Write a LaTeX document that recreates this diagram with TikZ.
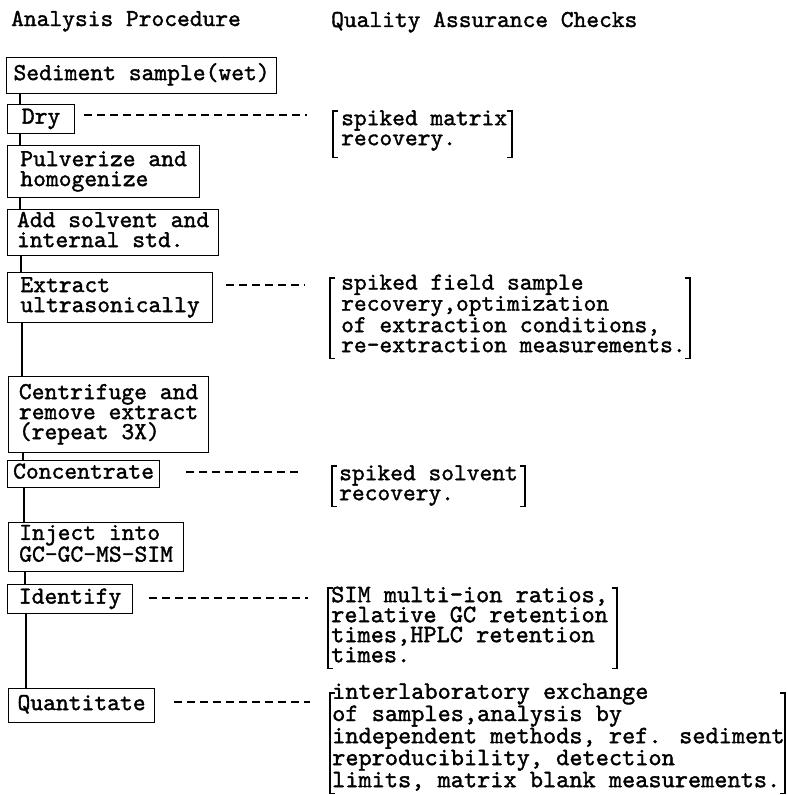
\documentclass[tikz,border=0pt]{standalone}
\usepackage{fontspec}
\newfontfamily\typew{lmmono10-regular}[Extension=.otf, FakeBold=1.4]
\usetikzlibrary{calc}
\tikzset{
	stepbox/.style={
		draw,
		rectangle,
		anchor=north west,
		align=left,
		line width=1.2pt,
		inner sep=2pt,
		text height=14pt,
		text depth=5pt,
		font=\typew\fontsize{24.4}{20}\selectfont
	},
	twolines/.style={text height=34pt},
	threelines/.style={text height=54pt},
	qabox/.style={
		anchor=north west,
		align=left,
		inner ysep=0pt,
		text depth=6pt,
		font=\typew\fontsize{24.3}{20}\selectfont
	},
	qawide/.style={
		qabox,
		font=\typew\fontsize{25.1}{20}\selectfont
	},
	heading/.style={
		anchor=base west,
		inner sep=0pt,
		font=\typew\fontsize{24.3}{20}\selectfont
	},
	trunk/.style={line width=1.2pt},
	bracket/.style={line width=1.2pt},
	qaline/.style={line width=1.2pt, dash pattern=on 8pt off 5pt}
}
\begin{document}
\begin{tikzpicture}[x=1pt,y=-1pt]
	\useasboundingbox (0,0) rectangle (787,795);
	\node[heading] (hproc) at (11,26) {Analysis Procedure};
	\node[heading] (hqa) at (331,27) {Quality Assurance Checks};

	% analysis steps
	\node[stepbox, minimum width=270pt, minimum height=36pt] (sed) at (6,57) {Sediment sample(wet)};
	\node[stepbox, minimum width=67pt, minimum height=29pt] (dry) at (7,104) {Dry};
	\node[stepbox, twolines, minimum width=192pt, minimum height=52pt] (pulv) at (7,145) {Pulverize and\\homogenize};
	\node[stepbox, twolines, minimum width=211pt, minimum height=46pt] (add) at (7,209) {Add solvent and\\internal std.};
	\node[stepbox, twolines, minimum width=205pt, minimum height=50pt] (extr) at (7,272) {Extract\\ultrasonically};
	\node[stepbox, threelines, minimum width=200pt, minimum height=76pt] (centr) at (8,376) {Centrifuge and\\remove extract\\(repeat 3X)};
	\node[stepbox, minimum width=152pt, minimum height=27pt] (conc) at (7,460) {Concentrate};
	\node[stepbox, twolines, minimum width=175pt, minimum height=49pt] (inject) at (8,522) {Inject into\\GC-GC-MS-SIM};
	\node[stepbox, minimum width=125pt, minimum height=29pt] (ident) at (7,584) {Identify};
	\node[stepbox, minimum width=146pt, minimum height=34pt] (quant) at (8,688) {Quantitate};

	% quality checks
	\node[qabox, inner xsep=8pt, text height=34pt, text depth=12pt] (qa1) at (333,111) {spiked matrix\\recovery.};
	\node[qabox, inner xsep=11pt, text height=74pt] (qa2) at (330,278) {spiked field sample\\recovery,optimization\\of extraction conditions,\\re-extraction measurements.};
	\node[qabox, inner xsep=7pt, text height=34pt] (qa3) at (332,466) {spiked solvent\\recovery.};
	\node[qawide, inner xsep=3pt, text height=74pt] (qa4) at (328,588) {SIM multi-ion ratios,\\relative GC retention\\times,HPLC retention\\times.};
	\node[qawide, inner xsep=2pt, text height=94pt] (qa5) at (330,693) {interlaboratory exchange\\of samples,analysis by\\independent methods, ref. sediment\\reproducibility, detection\\limits, matrix blank measurements.};

	\foreach \u/\v/\tx in {sed/dry/20, dry/pulv/20, pulv/add/20, add/extr/21, extr/centr/22, centr/conc/23, conc/inject/24, inject/ident/25, ident/quant/26}
		\draw[trunk] (\u.south -| \tx,0) -- (\v.north -| \tx,0);

	\foreach \qa/\w in {qa1/179, qa2/360, qa3/193, qa4/289, qa5/455} {
		\draw[bracket] ($(\qa.north west)+(5,0)$) -- (\qa.north west) -- (\qa.south west) -- ++(5,0);
		\draw[bracket] ($(\qa.north west)+(\w-5,0)$) -- ++(5,0) -- ($(\qa.south west)+(\w,0)$) -- ++(-5,0);
	}

	\foreach \stp/\qa/\gl/\gr/\dy in {dry/qa1/9/26/4, extr/qa2/13/25/7, conc/qa3/26/30/6, ident/qa4/16/20/10, quant/qa5/19/20/9}
		\draw[qaline] ($(\stp.east |- \qa.north)+(\gl,\dy)$) -- ($(\qa.north west)+(-\gr,\dy)$);
\end{tikzpicture}
\end{document}
